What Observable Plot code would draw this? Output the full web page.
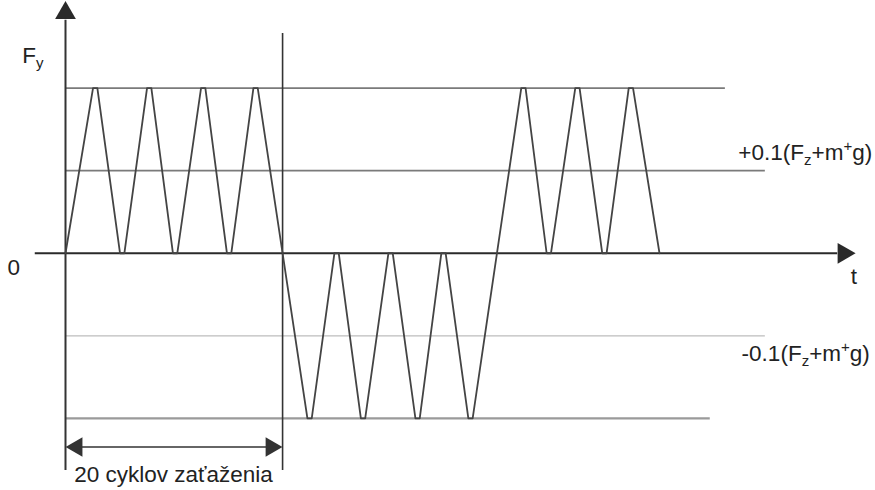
<!DOCTYPE html>
<html>
<head>
<meta charset="utf-8">
<script src="https://cdn.jsdelivr.net/npm/d3@7"></script>
<script src="https://cdn.jsdelivr.net/npm/@observablehq/plot@0.6"></script>
<style>
  html, body { margin: 0; padding: 0; background: #fff; }
</style>
</head>
<body>
<div id="chart"></div>
<script>
// Turning points of the load history Fy(t) (t in load-cycle units, F relative to peak level)
const turnT = [0, 0.55, 1.05, 1.55, 2.03, 2.55, 3.03, 3.52, 4.52, 5.02, 5.51, 6.02, 6.52, 7.0, 7.5, 8.48, 8.95, 9.48, 9.98, 10.47, 11.0];
const turnF = [0, 1, 0, 1, 0, 1, 0, 1, -1, 0, -1, 0, -1, 0, -1, 1, 0, 1, 0, 1, 0];
const flatHalf = 0.04; // small flat at each turning point (as drawn)

// Horizontal reference levels
const levelF    = [1, 0.5, -0.5, -1];
const levelEndT = [12.22, 12.96, 12.96, 11.94];
const levelTone = ["#7a7a7a", "#7a7a7a", "#bdbdbd", "#9a9a9a"];
const levelW    = [1.6, 1.6, 1.3, 2.2];

// Texts
const labelText = ["0", "t", "F_y", "+0.1(F_z+m^+g)", "-0.1(F_z+m^+g)", "20 cyklov zaťaženia"];
const labelT    = [-0.96, 14.6, -0.8, 12.46, 12.52, 2.0];
const labelF    = [-0.13, -0.185, 1.15, 0.562, -0.655, -1.382];
const labelAnchor = ["middle", "middle", "start", "start", "start", "middle"];

// Build the wave vertex table (flat tops at inner turning points)
const wave = [];
turnT.forEach((t, i) => {
  if (i === 0 || i === turnT.length - 1) wave.push({t, F: turnF[i]});
  else { wave.push({t: t - flatHalf, F: turnF[i]}); wave.push({t: t + flatHalf, F: turnF[i]}); }
});
const levels = levelF.map((F, i) => ({F, t2: levelEndT[i], c: levelTone[i], w: levelW[i]}));
const labels = labelText.map((s, i) => ({s, t: labelT[i], F: labelF[i], a: labelAnchor[i]}));

const axisColor = "#2a2a2a";
const chart = Plot.plot({
  width: 875,
  height: 490,
  marginLeft: 65,
  marginRight: 0,
  marginTop: 5,
  marginBottom: 6,
  style: {background: "#fff", fontFamily: "'Liberation Sans', Arial, sans-serif", fontSize: "22.5px", color: "#222"},
  x: {domain: [0, 15], axis: null},
  y: {domain: [-1.4, 1.5], axis: null},
  marks: [
    // reference levels
    ...levels.map(d => Plot.ruleY([d], {y: "F", x1: 0, x2: "t2", stroke: d.c, strokeWidth: d.w})),
    // t axis
    Plot.ruleY([0], {x1: -0.56, x2: 14.3, stroke: axisColor, strokeWidth: 2.2}),
    Plot.dot([{t: 14.41, F: 0}], {x: "t", y: "F", symbol: "triangle2", r: 9.9, rotate: 90, fill: axisColor, stroke: "none"}),
    // F axis
    Plot.ruleX([0], {y1: -1.315, y2: 1.41, stroke: "#333", strokeWidth: 2}),
    Plot.dot([{t: 0, F: 1.455}], {x: "t", y: "F", symbol: "triangle2", r: 9.9, rotate: 0, fill: axisColor, stroke: "none"}),
    // boundary between load blocks
    Plot.ruleX([4.02], {y1: -1.315, y2: 1.33, stroke: "#333", strokeWidth: 1.6}),
    // dimension arrow
    Plot.ruleY([-1.173], {x1: 0.2, x2: 3.82, stroke: "#333", strokeWidth: 1.6}),
    Plot.dot([{t: 0.21, F: -1.173, r: -90}, {t: 3.81, F: -1.173, r: 90}], {x: "t", y: "F", symbol: "triangle2", r: 9.3, rotate: "r", fill: "#333", stroke: "none"}),
    // load history
    Plot.line(wave, {x: "t", y: "F", stroke: "#444", strokeWidth: 1.8, strokeLinejoin: "round"}),
    // labels
    Plot.text(labels, {x: "t", y: "F", text: "s", textAnchor: "start", lineAnchor: "bottom", fill: "#222",
      filter: d => d.a === "start"}),
    Plot.text(labels, {x: "t", y: "F", text: "s", textAnchor: "middle", lineAnchor: "bottom", fill: "#222",
      filter: d => d.a === "middle"})
  ]
});
document.getElementById("chart").appendChild(chart);

// rich text: _x -> subscript, ^x -> superscript
d3.select(chart).selectAll("text").each(function() {
  const s = this.textContent;
  if (!/[_^]/.test(s)) return;
  const el = d3.select(this);
  el.text(null);
  let shift = 0;
  for (let i = 0; i < s.length; i++) {
    const c = s[i];
    if ((c === "_" || c === "^") && i + 1 < s.length) {
      const off = c === "_" ? 5 : -9;
      el.append("tspan").attr("dy", off - shift).attr("font-size", "15px").text(s[i + 1]);
      shift = off;
      i++;
    } else {
      el.append("tspan").attr("dy", -shift).text(c);
      shift = 0;
    }
  }
});
</script>
</body>
</html>
